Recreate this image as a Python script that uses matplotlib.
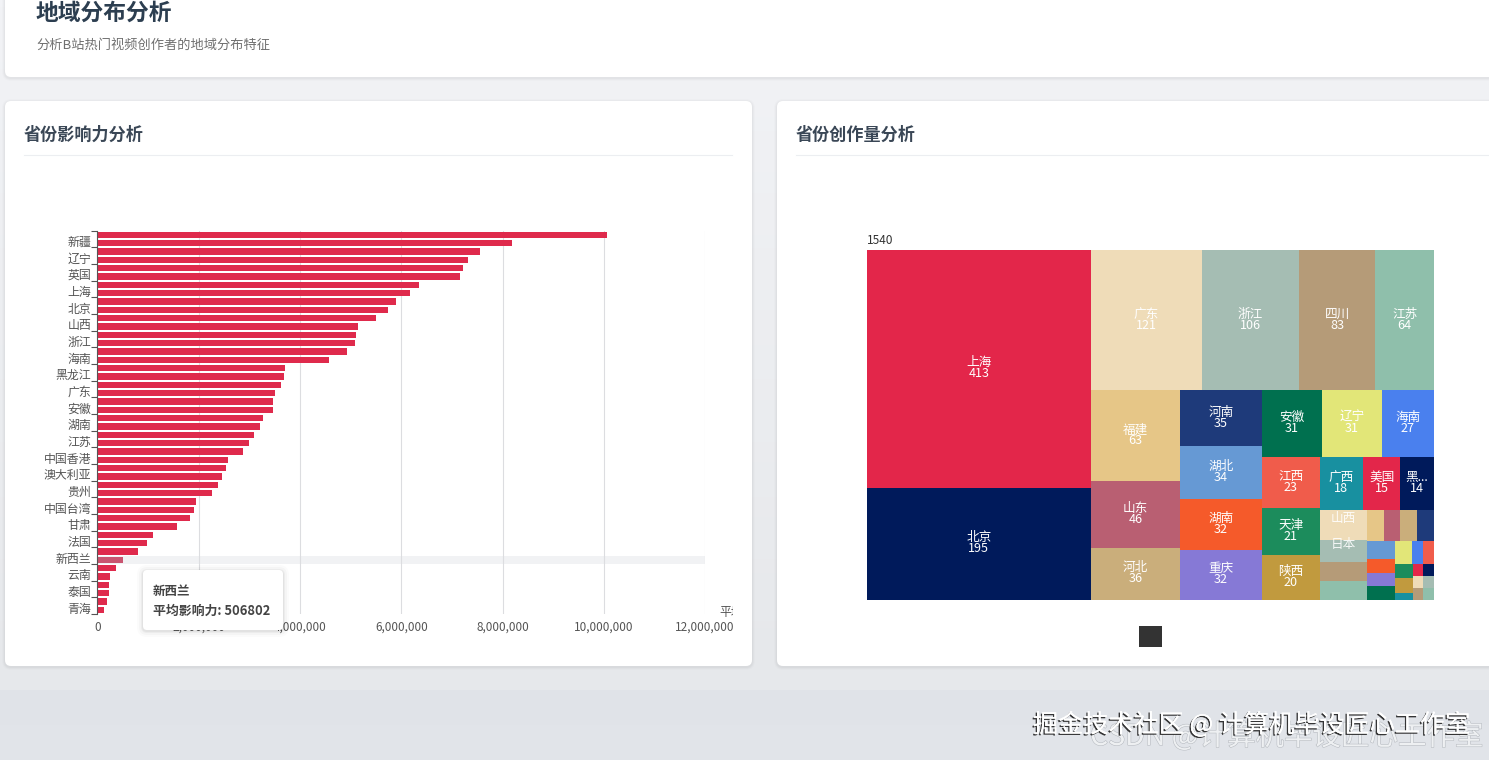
import numpy as np
import matplotlib
matplotlib.use('Agg')
import matplotlib.pyplot as plt
import matplotlib.patheffects as pe
from matplotlib.patches import FancyBboxPatch, Rectangle

plt.rcParams['font.family'] = ['Noto Sans CJK SC', 'DejaVu Sans']

# left chart, top to bottom. labels only show on every second bar
bar_labels = ['', '新疆', '', '辽宁', '', '英国', '', '上海', '', '北京', '', '山西', '', '浙江', '', '海南',
              '', '黑龙江', '', '广东', '', '安徽', '', '湖南', '', '江苏', '', '中国香港', '', '澳大利亚',
              '', '贵州', '', '中国台湾', '', '甘肃', '', '法国', '', '新西兰', '', '云南', '', '泰国', '', '青海']
bar_values = [10070000, 8190000, 7560000, 7320000, 7220000, 7160000, 6350000, 6170000, 5900000, 5740000,
              5500000, 5140000, 5110000, 5080000, 4930000, 4570000, 3710000, 3680000, 3620000, 3510000,
              3470000, 3460000, 3260000, 3210000, 3090000, 3000000, 2870000, 2585000, 2540000, 2460000,
              2390000, 2260000, 1940000, 1900000, 1820000, 1570000, 1090000, 980000, 795000, 506802,
              360000, 240000, 234000, 220000, 195000, 135000]
x_ticks = [0, 2000000, 4000000, 6000000, 8000000, 10000000, 12000000]

# right chart, sorted like the layout wants them
tree_names = ['上海', '北京', '广东', '浙江', '四川', '江苏', '福建', '山东', '河北', '河南', '湖北', '湖南', '重庆',
              '安徽', '辽宁', '海南', '江西', '天津', '陕西', '广西', '美国', '黑...', '山西', '日本']
tree_values = [413, 195, 121, 106, 83, 64, 63, 46, 36, 35, 34, 32, 32, 31, 31, 27, 23, 21, 20, 18, 15, 14, 11, 8]
tree_small = [7, 7, 4, 4, 4, 4, 4, 3, 3, 3, 3, 2, 2, 2, 2, 1, 1, 1, 1, 1, 1, 1]
palette = ['#e3264a', '#001a5b', '#efdcb8', '#a5bdb3', '#b59b78', '#8fbfab', '#e6c687', '#b95f72', '#caae7b',
           '#1e3a7a', '#6699d4', '#f55a2a', '#8679d6', '#00704f', '#e2e678', '#4a80ee', '#f05c4b', '#1c8c5c',
           '#c19a3e', '#1890a0']


def squarify(values, x, y, w, h, ratio=(1 + 5 ** 0.5) / 2):
    scale = w * h / sum(values)
    areas = [v * scale for v in values]
    out = []
    row = []
    best = float('inf')

    def worst(r, side):
        s = sum(r)
        return max(side * side * max(r) * ratio / (s * s), s * s / (side * side * min(r) * ratio))

    def flush(r, x, y, w, h):
        s = sum(r)
        if w <= h:
            rh = s / w
            cx = x
            for a in r:
                out.append((cx, y, a / rh, rh))
                cx += a / rh
            return x, y + rh, w, h - rh
        rw = s / h
        cy = y
        for a in r:
            out.append((x, cy, rw, a / rw))
            cy += a / rw
        return x + rw, y, w - rw, h

    for a in areas:
        side = min(w, h)
        score = worst(row + [a], side)
        if score <= best:
            row.append(a)
            best = score
        else:
            x, y, w, h = flush(row, x, y, w, h)
            row = [a]
            best = worst(row, min(w, h))
    flush(row, x, y, w, h)
    return out


fig = plt.figure(figsize=(14.89, 7.60), dpi=100)

# page and cards, in pixels
bg = fig.add_axes([0, 0, 1, 1], zorder=0)
bg.axis('off')
grad = np.linspace(0, 1, 100).reshape(-1, 1)
bg.imshow(grad, extent=[0, 1489, 690, 0], aspect='auto', cmap=matplotlib.colors.LinearSegmentedColormap.from_list('p', ['#f2f3f6', '#e6e8eb']))
bg.imshow(grad, extent=[0, 1489, 760, 690], aspect='auto', cmap=matplotlib.colors.LinearSegmentedColormap.from_list('p2', ['#e0e3e8', '#e2e5ea']))
bg.set_xlim(0, 1489)
bg.set_ylim(760, 0)


def card(ax, x0, y0, x1, y1, r=6, z=2, shadow=((3, 0.012), (2, 0.018), (1, 0.025))):
    for grow, alpha in shadow:
        ax.add_patch(FancyBboxPatch((x0 - grow, y0 - grow + 1), x1 - x0 + 2 * grow, y1 - y0 + 2 * grow,
                                    boxstyle='round,pad=0,rounding_size=%d' % (r + grow), fc='black', ec='none', alpha=alpha, zorder=z))
    ax.add_patch(FancyBboxPatch((x0, y0), x1 - x0, y1 - y0, boxstyle='round,pad=0,rounding_size=%d' % r,
                                fc='white', ec='none', zorder=z + 0.1))


card(bg, 5, -20, 1520, 77)
card(bg, 5, 101, 752, 666)
card(bg, 777, 101, 1520, 666)
bg.text(36, 13.5, '地域分布分析', fontsize=16.4, fontweight='bold', color='#2c3e50', va='center', zorder=5)
bg.text(36, 45.5, '分析B站热门视频创作者的地域分布特征', fontsize=9.5, color='#707070', va='center', zorder=5)
bg.text(24, 134.5, '省份影响力分析', fontsize=12.3, fontweight='bold', color='#3a4756', va='center', zorder=5)
bg.text(796, 134.5, '省份创作量分析', fontsize=12.3, fontweight='bold', color='#3a4756', va='center', zorder=5)
bg.plot([24, 732], [155, 155], color='#eceef1', lw=0.8, zorder=5)
bg.plot([796, 1489], [155, 155], color='#eceef1', lw=0.8, zorder=5)

# bar chart
ax = fig.add_axes([97.5 / 1489, 1 - 614 / 760, 607.5 / 1489, (614 - 230.7) / 760], zorder=3)
ax.patch.set_alpha(0)
y = np.arange(len(bar_values))
ax.set_xlim(0, 12000000)
ax.set_ylim(len(bar_values) - 0.5, -0.5)
ax.axhspan(39 - 0.5, 39 + 0.5, color='#f1f2f4', lw=0, zorder=0)
ax.grid(axis='x', color='#dcdde0', lw=0.8, zorder=1)
colors = ['#df2a4c'] * len(bar_values)
colors[39] = '#c95570'
ax.barh(y, bar_values, height=0.76, color=colors, zorder=2)
for s in ['top', 'right', 'bottom']:
    ax.spines[s].set_visible(False)
ax.spines['left'].set_color('#555555')
ax.set_xticks(x_ticks)
ax.set_xticklabels(['{:,}'.format(t) for t in x_ticks], fontsize=8.5, color='#555555')
ax.tick_params(axis='x', length=0, pad=5)
ax.set_yticks(np.arange(-0.5, len(bar_values), 2))
ax.set_yticklabels([])
ax.tick_params(axis='y', length=4, color='#555555', width=0.8)
ax.set_yticks(y[1::2] - 0.28, minor=True)
ax.set_yticklabels(bar_labels[1::2], minor=True, fontsize=8.6, color='#555555')
ax.tick_params(axis='y', which='minor', length=0, pad=4.5)

t = bg.text(719, 612, '平均影响力', fontsize=8.6, color='#555555', va='center', zorder=5)
t.set_clip_path(Rectangle((700, 600), 33, 25, transform=bg.transData))
t.set_clip_on(True)

# treemap
fg = fig.add_axes([0, 0, 1, 1], zorder=4)
fg.set_xlim(0, 1489)
fg.set_ylim(760, 0)
fg.axis('off')
fg.patch.set_alpha(0)
all_values = tree_values + tree_small
cells = squarify(all_values, 867, 250, 567, 350)
total = sum(all_values)
for i, (cx, cy, cw, ch) in enumerate(cells):
    fg.add_patch(Rectangle((cx, cy), cw, ch, fc=palette[i % len(palette)], ec='none', zorder=2))
    if i < 22:
        fg.text(cx + cw / 2, cy + ch / 2 - 6, tree_names[i], color='white', fontsize=9.1, ha='center', va='center', zorder=3)
        fg.text(cx + cw / 2, cy + ch / 2 + 5, str(tree_values[i]), color='white', fontsize=9.1, ha='center', va='center', zorder=3)
    elif i < len(tree_names):
        # number does not fit in these, only the name is left
        fg.text(cx + cw / 2, cy + ch / 2 - 6, tree_names[i], color='white', fontsize=9.1, ha='center', va='center', zorder=3, alpha=0.9)
fg.text(867, 240, str(total), fontsize=8.6, color='#333333', va='center')
fg.add_patch(Rectangle((1139, 626), 23, 21, fc='#333333', ec='none'))

# tooltip
card(fg, 143, 570, 283, 630, r=4, z=6, shadow=((6, 0.015), (4, 0.025), (2, 0.035), (1, 0.04)))
fg.text(153, 591, '新西兰', fontsize=9, fontweight='bold', color='#444444', va='center', zorder=8)
fg.text(153, 610.5, '平均影响力: 506802', fontsize=9.3, fontweight='bold', color='#444444', va='center', zorder=8)

# watermarks
fg.text(1090, 737, 'CSDN @计算机毕设匠心工作室', fontsize=20.5, color='#eef0f2', va='center', zorder=9,
        path_effects=[pe.withStroke(linewidth=0.8, foreground='#b8bcc2')])
fg.text(1033, 725, '掘金技术社区 @ 计算机毕设匠心工作室', fontsize=18.1, color='white', va='center', zorder=10,
        path_effects=[pe.withSimplePatchShadow(offset=(-1, -1), shadow_rgbFace='#222222', alpha=0.9), pe.Normal()])

fig.savefig('out.png', dpi=100)
